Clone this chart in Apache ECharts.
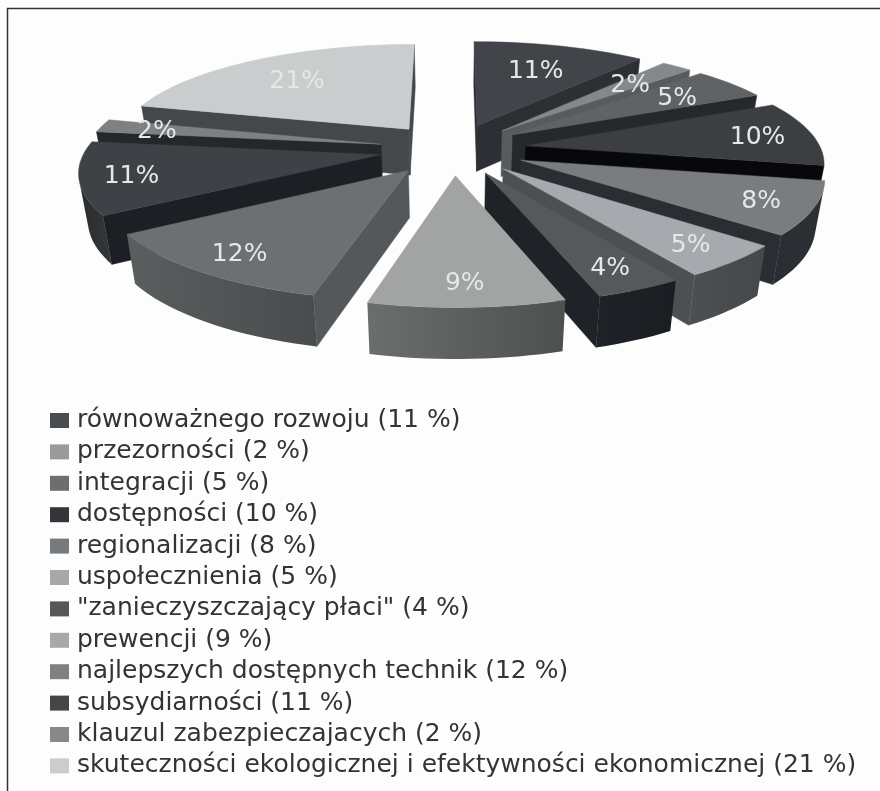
<!DOCTYPE html>
<html>
<head>
<meta charset="utf-8">
<style>html,body{margin:0;padding:0;background:#fff}#chart{width:880px;height:791px}</style>
<script src="https://cdn.jsdelivr.net/npm/echarts@6/dist/echarts.min.js"></script>
</head>
<body>
<div id="chart"></div>
<script>
// Zasady prawa ochrony środowiska: udział procentowy
const names = ['równoważnego rozwoju','przezorności','integracji','dostępności','regionalizacji','uspołecznienia','"zanieczyszczający płaci"','prewencji','najlepszych dostępnych technik','subsydiarności','klauzul zabezpieczajacych','skuteczności ekologicznej i efektywności ekonomicznej'];
const shares = [11,2,5,10,8,5,4,9,12,11,2,21];
const swatchColors = ['#4a4d50','#9a9a9a','#6c6e70','#333538','#777a7c','#a8a8a8','#555759','#a8a8a8','#808080','#444649','#888888','#cccccc'];
const topColors = ['#414448','#85888a','#5f6366','#3c3f42','#7a7d80','#a6aaae','#55595b','#a2a4a4','#6c7072','#3e4246','#7e8184','#c9cdcd'];
const cutColors = ['#2c2f33','#585b5e','#25292d','#08080c','#2a2e33','#4c5052','#1f2327','#555958','#55585a','#1c1f24','#25272a','#45484a'];
const rimColors = [['#3a3a3b','#3a3a3b'],['#585b5e','#585b5e'],['#2f3338','#2f3338'],['#2e3032','#2a2c2e'],['#2a2e33','#2c3034'],['#4c5052','#44484a'],['#1f2327','#1a1e22'],['#6a6e6c','#4c504f'],['#5a5e5e','#484c4c'],['#2a2c2e','#343638'],['#2a2c2e','#2a2c2e'],['#45484a','#45484a']];

// Rzut perspektywiczny rozsuniętego tortu
const view = {cx: 453, cy: 149, rx: 295, ry: 103, persp: 0.15, perspX: 0.14, explode: 0.25, depth: 46.5, converge: 0.025, labelAt: 0.83, labelBack: 0.16, labelDrop: 2};
const total = shares.reduce((a, b) => a + b, 0);

function project(x, y) {
  const w = 1 / (1 + view.persp * y);
  const wx = 1 / (1 + view.perspX * y);
  return {x: view.cx + view.rx * x * wx, y: view.cy - view.ry * y * w, w};
}
function lower(p) {
  return [p.x + (view.cx - p.x) * view.converge, p.y + view.depth * Math.sqrt(p.w)];
}
function polar(deg, r, off) {
  const a = deg * Math.PI / 180;
  return [off[0] + r * Math.sin(a), off[1] + r * Math.cos(a)];
}
function area(pts) {
  let s = 0;
  pts.forEach((p, i) => { const q = pts[(i + 1) % pts.length]; s += p[0] * q[1] - q[0] * p[1]; });
  return s;
}

let running = 0;
const slices = shares.map((v, i) => {
  const start = running / total * 360;
  running += v;
  const end = running / total * 360;
  const mid = (start + end) / 2;
  return {start, end, mid, off: polar(mid, view.explode, [0, 0])};
});

function sliceGraphic(i) {
  const s = slices[i];
  const top = [], rim = [];
  const apex = project(s.off[0], s.off[1]);
  const n = Math.max(4, Math.ceil((s.end - s.start) / 2));
  for (let k = 0; k <= n; k++) {
    const d = polar(s.start + (s.end - s.start) * k / n, 1, s.off);
    rim.push(project(d[0], d[1]));
  }
  top.push([apex.x, apex.y]);
  rim.forEach(p => top.push([p.x, p.y]));
  const children = [];
  const face = (a, b, color) => {
    const q = [[a.x, a.y], [b.x, b.y], lower(b), lower(a)];
    if (area(q) < 0) children.push({type: 'polygon', shape: {points: q}, style: {fill: color, stroke: color, lineWidth: 0.5}});
  };
  // Ściany cięcia
  face(apex, rim[0], cutColors[i]);
  face(rim[n], apex, cutColors[i]);
  // Zewnętrzny brzeg: tylko odcinki zwrócone do widza
  let upper = [], under = [];
  for (let k = 0; k < n; k++) {
    const a = rim[k], b = rim[k + 1];
    const q = [[a.x, a.y], [b.x, b.y], lower(b), lower(a)];
    if (area(q) < 0) {
      if (!upper.length) { upper.push(q[0]); under.push(q[3]); }
      upper.push(q[1]); under.push(q[2]);
    }
  }
  if (upper.length) {
    const fill = new echarts.graphic.LinearGradient(0, 0, 1, 0, [
      {offset: 0, color: rimColors[i][0]}, {offset: 1, color: rimColors[i][1]}]);
    children.push({type: 'polygon', shape: {points: upper.concat(under.reverse())}, style: {fill}});
  }
  children.push({type: 'polygon', shape: {points: top}, style: {fill: topColors[i], stroke: topColors[i], lineWidth: 0.5}});
  return {type: 'group', children};
}

// Kolejność rysowania: od tyłu do przodu
const rank = slices.map((s, i) => [s.off[1], i]).sort((a, b) => b[0] - a[0]).map(e => e[1]);
const legendNames = names.map((n, i) => n + ' (' + shares[i] + ' %)');

const sliceSeries = names.map((n, i) => ({
  type: 'custom',
  name: legendNames[i],
  coordinateSystem: 'none',
  z: 2 + rank.indexOf(i),
  color: swatchColors[i],
  itemStyle: {color: swatchColors[i]},
  silent: true,
  data: [shares[i]],
  renderItem: () => sliceGraphic(i)
}));

const labelSeries = {
  type: 'custom',
  name: 'etykiety',
  coordinateSystem: 'none',
  z: 50,
  silent: true,
  data: shares,
  renderItem: (params, api) => {
    const i = params.dataIndex, s = slices[i];
    // Etykiety z tyłu tortu leżą bliżej środka wycinka
    const back = Math.max(0, Math.cos(s.mid * Math.PI / 180));
    const d = polar(s.mid, view.labelAt - view.labelBack * back, s.off);
    const p = project(d[0], d[1]);
    return {type: 'text', x: p.x, y: p.y + view.labelDrop, style: {
      text: api.value(0) + '%', fill: '#e6e8e8', font: '25px "DejaVu Sans"', align: 'center', verticalAlign: 'middle'}};
  }
};

const chart = echarts.init(document.getElementById('chart'), null, {renderer: 'canvas'});
chart.setOption({
  animation: false,
  backgroundColor: '#fdfdfd',
  legend: {
    data: legendNames,
    orient: 'vertical',
    left: 50,
    top: 408,
    icon: 'rect',
    itemWidth: 19,
    itemHeight: 15,
    itemGap: 6.4,
    padding: 0,
    selectedMode: false,
    textStyle: {color: '#333333', fontFamily: 'DejaVu Sans', fontSize: 25, lineHeight: 22, padding: [0, 0, 0, 3]}
  },
  series: sliceSeries.concat([labelSeries]),
  graphic: [
    {type: 'polyline', silent: true, z: 100, shape: {points: [[7.5, 791], [7.5, 8.5], [880, 8.5]]}, style: {fill: null, stroke: '#333', lineWidth: 1.5}}
  ]
});
</script>
</body>
</html>
